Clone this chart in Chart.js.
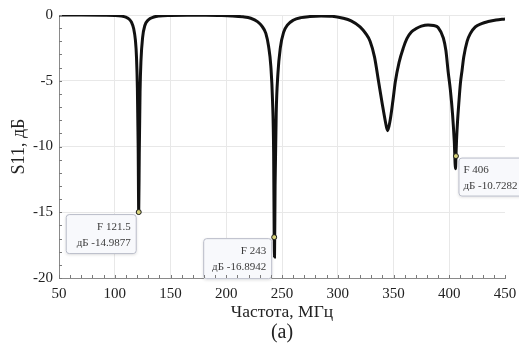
<!DOCTYPE html>
<html>
<head>
<meta charset="utf-8">
<script src="https://cdn.jsdelivr.net/npm/chart.js@4.4.1/dist/chart.umd.min.js"></script>
<style>
  html, body { margin: 0; padding: 0; background: #fff; }
  #wrap { width: 519px; height: 345px; position: relative; }
</style>
</head>
<body>
<div id="wrap"><canvas id="chartS11"></canvas></div>
<script>
// S11 curve (MHz, dB)
var freq = [
  50, 70, 90, 100, 106, 110, 113, 115, 117, 118.5, 119.5, 120.3, 121, 121.5,
  122, 122.7, 123.5, 125, 127, 130, 135, 140, 150, 165, 180, 195,
  205, 215, 222, 228, 232, 235.5, 238, 240, 241.5, 242.5, 243, 243.3,
  243.8, 244.8, 246.3, 248.5, 251.5, 255, 260, 267, 275, 285, 295,
  305, 312, 320, 325, 329, 333, 336.5, 340, 342.5, 344.7, 347, 349.5,
  351.6, 355, 358.8, 362, 366, 370, 375, 381, 386, 390, 394.7, 397,
  399, 401, 403, 404.5, 405.6, 406, 406.5, 407.5, 408.5, 410, 411.5,
  413, 416, 419, 423.4, 429, 435, 442, 450
];
var s11 = [
  0, 0, -0.01, -0.03, -0.08, -0.17, -0.32, -0.55, -1.05, -1.9, -3.2, -5.6, -10, -15,
  -10.5, -5.8, -3.5, -1.7, -0.8, -0.38, -0.15, -0.07, -0.03, -0.01, -0.02, -0.04,
  -0.07, -0.14, -0.25, -0.5, -0.85, -1.4, -2.4, -3.9, -6.5, -10.5, -16.9, -18.4,
  -13, -7.5, -4.5, -2.5, -1.3, -0.75, -0.4, -0.2, -0.12, -0.08, -0.1,
  -0.25, -0.45, -0.9, -1.4, -2.0, -3.2, -5.0, -6.8, -8.0, -8.8, -8.0, -6.5,
  -5.1, -3.6, -2.5, -1.8, -1.3, -1.05, -0.85, -0.76, -0.8, -0.95, -1.75, -2.7,
  -4.3, -5.7, -7.6, -9.6, -11.7, -10.73, -9.6, -8.0, -6.8, -5.2, -4.2,
  -3.2, -2.0, -1.4, -0.9, -0.65, -0.5, -0.38, -0.3
];

// marker readouts
var markerFreq = [121.5, 243, 406];
var markerDb = [-14.9877, -16.8942, -10.7282];

var panelLabel = "(a)";

var serif = "'Liberation Serif', 'Times New Roman', serif";

var markerBoxes = {
  id: "markerBoxes",
  afterDatasetsDraw: function (chart, args, opts) {
    var ctx = chart.ctx;
    var xs = chart.scales.x, ys = chart.scales.y;
    ctx.save();
    markerFreq.forEach(function (f, i) {
      var b = opts.boxes[i];
      var mx = xs.getPixelForValue(f), my = ys.getPixelForValue(markerDb[i]);
      var left = mx + b.dx, top = my + b.dy;
      ctx.save();
      ctx.shadowColor = "rgba(0,0,0,0.12)";
      ctx.shadowBlur = 3;
      ctx.shadowOffsetY = 1;
      ctx.fillStyle = "#f8f9fc";
      ctx.beginPath();
      ctx.roundRect(left, top, b.w, b.h, 3);
      ctx.fill();
      ctx.restore();
      ctx.strokeStyle = "#b9bcc8";
      ctx.lineWidth = 1;
      ctx.beginPath();
      ctx.roundRect(left + 0.5, top + 0.5, b.w - 1, b.h - 1, 3);
      ctx.stroke();
      ctx.fillStyle = "#3a3a3a";
      ctx.font = "11px " + serif;
      ctx.textBaseline = "middle";
      ctx.textAlign = b.align;
      var tx = b.align === "right" ? left + b.w - 6 : left + 5;
      ctx.fillText("F " + f, tx, top + 13);
      ctx.fillText("дБ " + markerDb[i].toFixed(4), tx, top + 29);
      // marker dot on top
      ctx.fillStyle = "#d9d47c";
      ctx.strokeStyle = "#1a1a1a";
      ctx.beginPath();
      ctx.arc(mx, my, 2.5, 0, Math.PI * 2);
      ctx.fill();
      ctx.stroke();
    });
    ctx.restore();
  },
  afterDraw: function (chart) {
    var ctx = chart.ctx, a = chart.chartArea;
    var xs = chart.scales.x, ys = chart.scales.y;
    ctx.save();
    // inward minor ticks on both axes
    ctx.strokeStyle = "#7a7a7a";
    ctx.lineWidth = 1;
    ctx.beginPath();
    xs.ticks.forEach(function (t) {
      var px = Math.round(xs.getPixelForValue(t.value)) + 0.5;
      ctx.moveTo(px, a.bottom);
      ctx.lineTo(px, a.bottom - 3);
    });
    ys.ticks.forEach(function (t) {
      var py = Math.round(ys.getPixelForValue(t.value)) + 0.5;
      ctx.moveTo(a.left, py);
      ctx.lineTo(a.left + 3, py);
    });
    ctx.stroke();
    // panel label under the axis title
    ctx.fillStyle = "#222";
    ctx.font = "20px " + serif;
    ctx.textAlign = "center";
    ctx.textBaseline = "middle";
    ctx.fillText(panelLabel, (a.left + a.right) / 2, 333);
    ctx.restore();
  }
};

var ctx = document.getElementById("chartS11").getContext("2d");

const chartS11 = new Chart(ctx, {
  type: "line",
  data: {
    datasets: [
      {
        label: "S11",
        data: freq.map(function (f, i) { return { x: f, y: s11[i] }; }),
        borderColor: "#111",
        borderWidth: 3,
        pointRadius: 0,
        fill: false,
        cubicInterpolationMode: "monotone",
      },
    ],
  },
  options: {
    responsive: true,
    maintainAspectRatio: false,
    animation: false,
    layout: { padding: { left: 0, right: 14, top: 15, bottom: 0 } },
    plugins: {
      legend: { display: false },
      tooltip: { enabled: false },
      markerBoxes: {
        boxes: [
          { dx: -73, dy: 2, w: 71, h: 40, align: "right" },
          { dx: -71, dy: 1, w: 69, h: 41, align: "right" },
          { dx: 2.5, dy: 1.5, w: 72, h: 39, align: "left" },
        ],
      },
    },
    scales: {
      x: {
        type: "linear",
        min: 50,
        max: 450,
        afterFit: function (s) {
          s.height = 67;
          s.paddingLeft = 0;
          s.paddingRight = 0;
        },
        grid: {
          drawTicks: false,
          color: function (c) {
            var v = c.tick.value;
            return v % 50 === 0 && v !== 450 ? "#e8e8e8" : "rgba(0,0,0,0)";
          },
        },
        border: { color: "#8a8a8a" },
        ticks: {
          stepSize: 10,
          autoSkip: false,
          maxRotation: 0,
          padding: 7,
          color: "#222",
          font: { family: serif, size: 15 },
          callback: function (v) { return v % 50 === 0 ? v : ""; },
        },
        title: {
          display: true,
          text: "Частота, МГц",
          color: "#222",
          font: { family: serif, size: 17.5, lineHeight: 1.2 },
          padding: { top: 0, bottom: 22 },
        },
      },
      y: {
        min: -20,
        max: 0,
        afterFit: function (s) {
          s.width = 59;
          s.paddingTop = 0;
          s.paddingBottom = 0;
        },
        grid: {
          drawTicks: false,
          color: function (c) {
            return c.tick.value % 5 === 0 ? "#e8e8e8" : "rgba(0,0,0,0)";
          },
        },
        border: { color: "#8a8a8a" },
        ticks: {
          stepSize: 1,
          autoSkip: false,
          padding: 6,
          color: "#222",
          font: { family: serif, size: 15 },
          callback: function (v) { return v % 5 === 0 ? v : ""; },
        },
        title: {
          display: true,
          text: "S11, дБ",
          color: "#222",
          font: { family: serif, size: 18, lineHeight: 1.2 },
          padding: { top: 8, bottom: 0 },
        },
      },
    },
  },
  plugins: [markerBoxes],
});
</script>
</body>
</html>
